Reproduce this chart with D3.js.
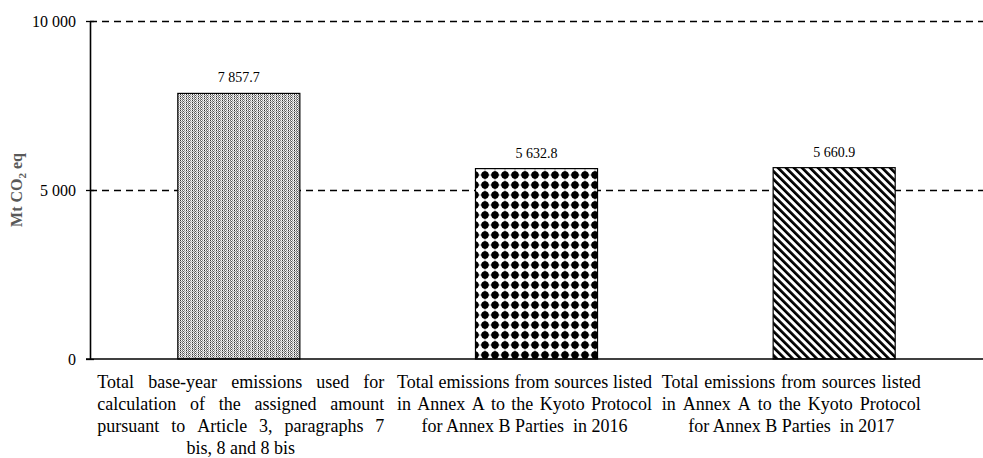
<!DOCTYPE html>
<html>
<head>
<meta charset="utf-8">
<script src="https://cdn.jsdelivr.net/npm/d3@7"></script>
<style>
  body { margin: 0; background: #fff; }
  svg { display: block; font-family: "Liberation Serif", "Times New Roman", serif; }
</style>
</head>
<body>
<div id="chart"></div>
<script>
// data
const categories = ["base", "y2016", "y2017"];
const values = [7857.7, 5632.8, 5660.9];
const valueLabels = ["7 857.7", "5 632.8", "5 660.9"];
const labelLines = [
  ["Total base-year emissions used for", "calculation of the assigned amount", "pursuant to Article 3, paragraphs 7", "bis, 8 and 8 bis"],
  ["Total emissions from sources listed", "in Annex A to the Kyoto Protocol", "for Annex B Parties  in 2016"],
  ["Total emissions from sources listed", "in Annex A to the Kyoto Protocol", "for Annex B Parties  in 2017"]
];
const yTicks = [0, 5000, 10000];
const yTickLabels = ["0", "5 000", "10 000"];
const patterns = ["pat-dots", "pat-diamond", "pat-diag"];

const width = 983;
const height = 458;
const margin = { top: 21, right: 0, bottom: 99, left: 90 };

const svg = d3.select("#chart").append("svg").attr("width", width).attr("height", height);

// fill patterns
const defs = svg.append("defs");

// fine dotted, vertically banded grey
const p1 = defs.append("pattern").attr("id", "pat-dots").attr("patternUnits", "userSpaceOnUse")
  .attr("width", 6).attr("height", 2);
p1.append("rect").attr("width", 6).attr("height", 2).attr("fill", "#fff");
const dotCells = [
  [0, 0, "#333"], [2, 0, "#666"], [4, 0, "#888"],
  [1, 1, "#999"], [3, 1, "#555"], [5, 1, "#bbb"],
  [0, 1, "#ccc"], [2, 1, "#d0d0d0"], [4, 1, "#e0e0e0"]
];
dotCells.forEach(([x, y, c]) => p1.append("rect").attr("x", x).attr("y", y).attr("width", 1).attr("height", 1).attr("fill", c));

// black four-pointed stars with white round holes
const p2 = defs.append("pattern").attr("id", "pat-diamond").attr("patternUnits", "userSpaceOnUse")
  .attr("width", 10).attr("height", 10);
p2.append("rect").attr("width", 10).attr("height", 10).attr("fill", "#fff");
p2.append("circle").attr("cx", 5).attr("cy", 5).attr("r", 3.7).attr("fill", "#000");
p2.append("path").attr("d", "M5,0 L6.8,5 L5,10 L3.2,5 Z M0,5 L5,3.2 L10,5 L5,6.8 Z").attr("fill", "#000");

// wide downward diagonal
const p3 = defs.append("pattern").attr("id", "pat-diag").attr("patternUnits", "userSpaceOnUse")
  .attr("width", 5.66).attr("height", 10).attr("patternTransform", "rotate(-45)");
p3.append("rect").attr("width", 5.66).attr("height", 10).attr("fill", "#fff");
p3.append("rect").attr("width", 2.7).attr("height", 10).attr("fill", "#000");

const x = d3.scaleBand().domain(categories).range([margin.left, width - margin.right]).paddingInner(0.59).paddingOuter(0.295);
const y = d3.scaleLinear().domain([0, 10000]).range([height - margin.bottom, margin.top]);

// dashed gridlines
svg.append("g")
  .selectAll("line")
  .data(yTicks.filter((d) => d > 0))
  .join("line")
  .attr("x1", margin.left)
  .attr("x2", width)
  .attr("y1", (d) => y(d) + 0.5)
  .attr("y2", (d) => y(d) + 0.5)
  .attr("stroke", "#000")
  .attr("stroke-width", 1.4)
  .attr("stroke-dasharray", "7,5");

// bars
svg.append("g")
  .selectAll("rect")
  .data(values)
  .join("rect")
  .attr("x", (d, i) => x(categories[i]))
  .attr("y", (d) => y(d))
  .attr("width", x.bandwidth())
  .attr("height", (d) => y(0) - y(d))
  .attr("fill", (d, i) => `url(#${patterns[i]})`)
  .attr("stroke", "#000")
  .attr("stroke-width", 1.2);

// value labels
svg.append("g")
  .selectAll("text")
  .data(values)
  .join("text")
  .attr("x", (d, i) => x(categories[i]) + x.bandwidth() / 2)
  .attr("y", (d) => y(d) - 11)
  .attr("text-anchor", "middle")
  .attr("font-size", 14)
  .attr("fill", "#000")
  .text((d, i) => valueLabels[i]);

// y axis
const yAxis = d3.axisLeft(y).tickValues(yTicks).tickFormat((d, i) => yTickLabels[i]).tickSize(4).tickSizeOuter(0);
const yg = svg.append("g").attr("transform", `translate(${margin.left},0)`).call(yAxis);
yg.select(".domain").attr("stroke", "#000").attr("stroke-width", 1.6);
yg.selectAll(".tick line").attr("x1", -4).attr("x2", 4).attr("stroke-width", 1.3);
yg.selectAll(".tick text").attr("x", -14).attr("font-size", 16).attr("font-family", "Liberation Serif").attr("fill", "#000");

// x axis baseline
svg.append("line")
  .attr("x1", margin.left - 4)
  .attr("x2", width)
  .attr("y1", y(0))
  .attr("y2", y(0))
  .attr("stroke", "#000")
  .attr("stroke-width", 1.6);

// y axis title
svg.append("text")
  .attr("transform", `translate(22,${(y(0) + y(10000)) / 2}) rotate(-90)`)
  .attr("text-anchor", "middle")
  .attr("font-size", 16)
  .attr("font-weight", "bold")
  .attr("fill", "#595959")
  .call((t) => {
    t.append("tspan").text("Mt CO");
    t.append("tspan").attr("font-size", 11).attr("dy", 4).text("2");
    t.append("tspan").attr("dy", -4).text(" eq");
  });

// category labels, justified like the original
const labelShift = [2, -12, -43];
const labelWidth = [287, 255, 259];
const lineGap = 22;
const firstBase = 388;

labelLines.forEach((lines, ci) => {
  const cx = x(categories[ci]) + x.bandwidth() / 2 + labelShift[ci];
  const g = svg.append("g").attr("font-size", 18).attr("fill", "#000");
  lines.forEach((line, li) => {
    const yy = firstBase + li * lineGap;
    const last = li === lines.length - 1;
    if (last) {
      g.append("text").attr("x", cx).attr("y", yy).attr("text-anchor", "middle").attr("xml:space", "preserve").text(line);
      return;
    }
    const words = line.split(" ");
    const tmp = words.map((w) => g.append("text").attr("y", yy).text(w));
    const ws = tmp.map((t) => t.node().getComputedTextLength());
    const total = d3.sum(ws);
    const gap = (labelWidth[ci] - total) / (words.length - 1);
    let xx = cx - labelWidth[ci] / 2;
    tmp.forEach((t, k) => {
      t.attr("x", xx);
      xx += ws[k] + gap;
    });
  });
});
</script>
</body>
</html>
